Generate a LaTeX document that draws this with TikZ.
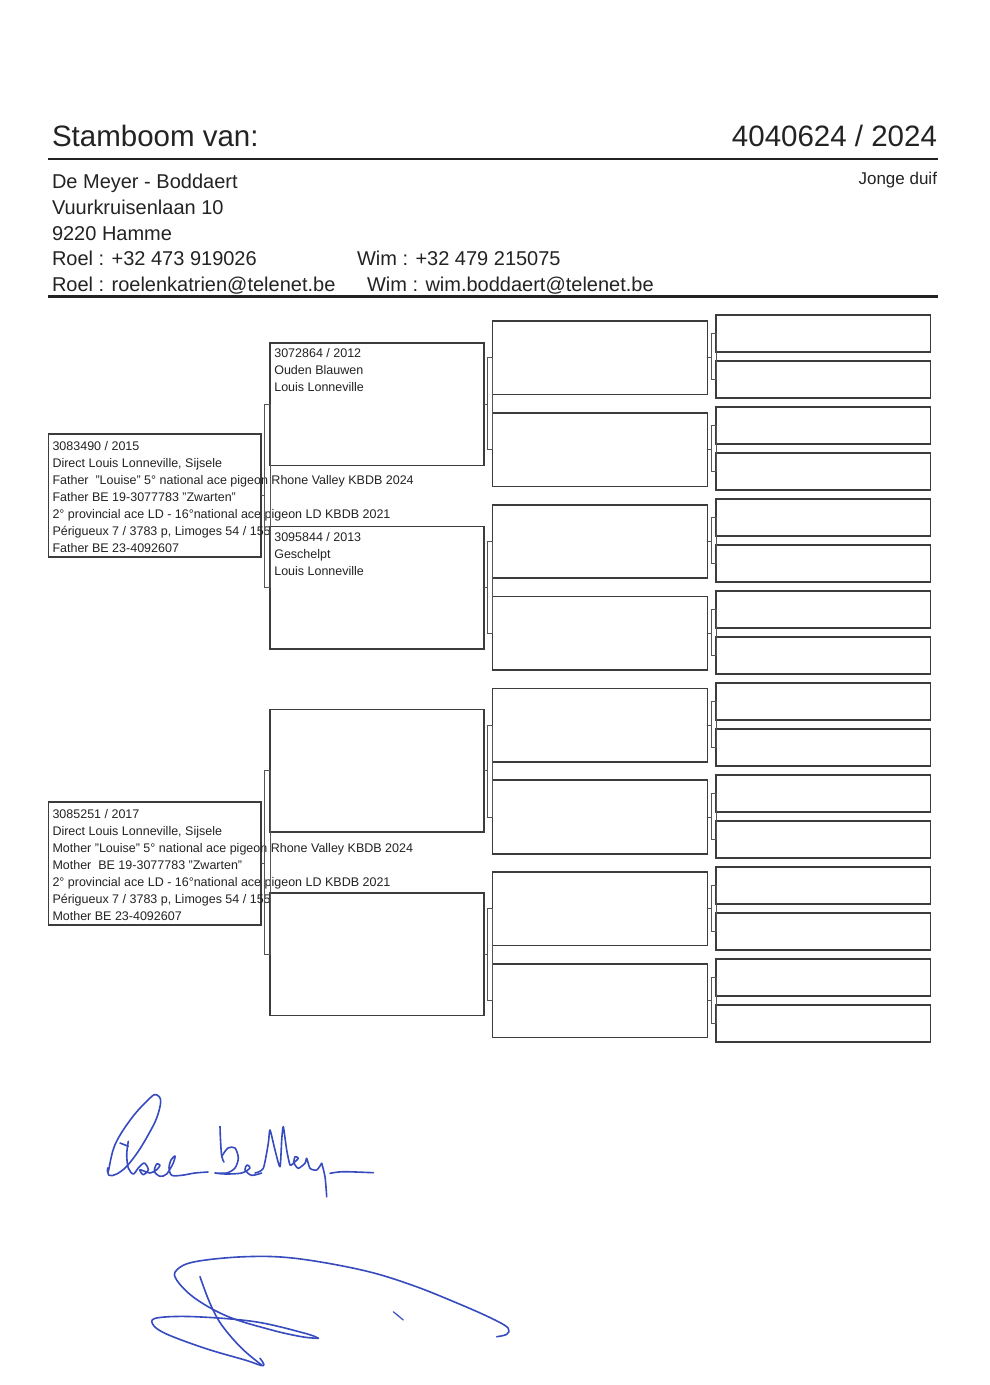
\documentclass[tikz,border=0pt]{standalone}
\usepackage{fontspec}
\setmainfont{Liberation Sans}
\usetikzlibrary{calc}
\definecolor{ink}{RGB}{35,35,35}
\definecolor{boxc}{RGB}{60,60,60}
\definecolor{brc}{RGB}{85,85,85}
\definecolor{sig}{RGB}{55,75,190}
\begin{document}
\begin{tikzpicture}[x=1pt,y=-1pt,
  pbox/.style={draw=boxc,line width=1.6pt,fill=white,rectangle,inner sep=0pt,outer sep=0pt,anchor=north west},
  colA/.style={pbox,minimum width=212.5pt,minimum height=123pt},
  colB/.style={pbox,minimum width=214pt,minimum height=122.5pt},
  colC/.style={pbox,minimum width=215pt,minimum height=73.5pt},
  colD/.style={pbox,minimum width=214.5pt,minimum height=37pt},
  bracket/.style={draw=brc,line width=0.9pt},
  rulestyle/.style={draw=ink,line width=2.2pt},
  txt/.style={inner sep=0pt,outer sep=0pt,anchor=base west,text=ink},
  smalltxt/.style={txt,font=\fontsize{12.5}{15}\selectfont},
  addrtxt/.style={txt,font=\fontsize{20}{24}\selectfont},
  bigtxt/.style={txt,font=\fontsize{29.5}{35}\selectfont},
  sigline/.style={draw=sig,line width=1.6pt,line cap=round,line join=round},
]
\fill[white] (0,0) rectangle (990,1385);
\useasboundingbox (0,0) rectangle (990,1385);

% header
\node[bigtxt] (title) at (52,146) {Stamboom van:};
\node[bigtxt,anchor=base east] (ring) at (937,146) {4040624 / 2024};
\draw[rulestyle] (48,159) -- (938,159);
\node[addrtxt] (a1) at (52,188.5) {De Meyer - Boddaert};
\node[addrtxt] (a2) at (52,214) {Vuurkruisenlaan 10};
\node[addrtxt] (a3) at (52,240) {9220 Hamme};
\node[addrtxt] (a4) at (52,265.5) {Roel : +32 473 919026};
\node[addrtxt] (a5) at (357,265.5) {Wim : +32 479 215075};
\node[addrtxt] (a6) at (52,291) {Roel : roelenkatrien@telenet.be};
\node[addrtxt] (a7) at (367,291) {Wim : wim.boddaert@telenet.be};
\node[txt,anchor=base east,font=\fontsize{17}{20}\selectfont] (jd) at (937,184) {Jonge duif};
\draw[rulestyle] (48,296.5) -- (938,296.5);

% column 1
\node[colA] (F) at (48.5,434) {};
\node[colA] (M) at (48.5,802) {};
\node[smalltxt] (f1) at (52.5,450) {3083490 / 2015};
\node[smalltxt] (f2) at (52.5,467.1) {Direct Louis Lonneville, Sijsele};
\node[smalltxt] (f3) at (52.5,484.2) {Father\ \ "Louise" 5° national ace pigeon Rhone Valley KBDB 2024};
\node[smalltxt] (f4) at (52.5,501.3) {Father BE 19-3077783 "Zwarten"};
\node[smalltxt] (f5) at (52.5,518.4) {2° provincial ace LD - 16°national ace pigeon LD KBDB 2021};
\node[smalltxt] (f6) at (52.5,535.5) {Périgueux 7 / 3783 p, Limoges 54 / 1554};
\node[smalltxt] (f7) at (52.5,552.6) {Father BE 23-4092607};
\node[smalltxt] (m1) at (52.5,818) {3085251 / 2017};
\node[smalltxt] (m2) at (52.5,835.1) {Direct Louis Lonneville, Sijsele};
\node[smalltxt] (m3) at (52.5,852.2) {Mother "Louise" 5° national ace pigeon Rhone Valley KBDB 2024};
\node[smalltxt] (m4) at (52.5,869.3) {Mother\ \ BE 19-3077783 "Zwarten"};
\node[smalltxt] (m5) at (52.5,886.4) {2° provincial ace LD - 16°national ace pigeon LD KBDB 2021};
\node[smalltxt] (m6) at (52.5,903.5) {Périgueux 7 / 3783 p, Limoges 54 / 1554};
\node[smalltxt] (m7) at (52.5,920.6) {Mother BE 23-4092607};

% column 2
\foreach \i in {1,...,4}
  \node[colB] (c\i) at (270,{343+183.33*(\i-1)}) {};
\node[smalltxt] (c1t1) at (274.3,357.5) {3072864 / 2012};
\node[smalltxt] (c1t2) at (274.3,374.5) {Ouden Blauwen};
\node[smalltxt] (c1t3) at (274.3,391.5) {Louis Lonneville};
\node[smalltxt] (c2t1) at (274.3,541.8) {3095844 / 2013};
\node[smalltxt] (c2t2) at (274.3,558.8) {Geschelpt};
\node[smalltxt] (c2t3) at (274.3,575.8) {Louis Lonneville};

% column 3
\foreach \i in {1,...,8}
  \node[colC] (g\i) at (492.5,{321+91.85*(\i-1)}) {};
% column 4
\foreach \i in {1,...,16}
  \node[colD] (h\i) at (716,{315+46*(\i-1)}) {};

% brackets column 1 -> 2
\draw[bracket] (F.east) -- ($(c1.west |- F.east)+(-5.5,0)$);
\draw[bracket] ($(c1.west)+(-5.5,0)$) rectangle (c2.west);
\draw[bracket] (M.east) -- ($(c3.west |- M.east)+(-5.5,0)$);
\draw[bracket] ($(c3.west)+(-5.5,0)$) rectangle (c4.west);
% brackets column 2 -> 3
\foreach \i in {1,...,4} {
  \pgfmathtruncatemacro\ca{2*\i-1}
  \pgfmathtruncatemacro\cb{2*\i}
  \draw[bracket] (c\i.east) -- ($(g\ca.west |- c\i.east)+(-5.5,0)$);
  \draw[bracket] ($(g\ca.west)+(-5.5,0)$) rectangle (g\cb.west);
}
% brackets column 3 -> 4
\foreach \i in {1,...,8} {
  \pgfmathtruncatemacro\ca{2*\i-1}
  \pgfmathtruncatemacro\cb{2*\i}
  \draw[bracket] (g\i.east) -- ($(h\ca.west |- g\i.east)+(-5,0)$);
  \draw[bracket] ($(h\ca.west)+(-5,0)$) rectangle (h\cb.west);
}

% signature 1
\draw[sigline] plot[smooth cycle,tension=0.6] coordinates {(108.3,1171.3) (115,1144.7) (131.7,1118) (150,1098) (156.7,1094.7) (160.7,1101.3) (156.7,1118) (148.3,1134.7) (138.3,1151.3) (126.7,1166.3) (116.7,1174) (109,1175.3) (107.7,1168)};
\draw[sigline] (120,1143) -- (128.3,1146.3);
\draw[sigline] plot[smooth,tension=0.5] coordinates {(128.3,1141.3) (126.7,1154.7) (128.3,1168) (133.3,1174) (138.3,1168) (144.3,1163) (148.3,1169.7) (143.3,1174.7) (140,1169.7) (150,1173) (156.7,1169.7) (160,1165.3) (156.7,1164) (154.3,1171.3) (160,1176.3) (166.7,1174) (173.3,1163) (175,1156) (171,1160) (169,1168) (171.7,1175.3) (181.7,1175.3) (195,1173) (208,1172)};
\draw[sigline] plot[smooth,tension=0.5] coordinates {(220,1126.3) (220.5,1140) (221.7,1156.3) (224,1162)};
\draw[sigline] plot[smooth,tension=0.5] coordinates {(221.7,1156.3) (228,1148) (235,1148) (238.3,1158) (235,1168) (226.7,1173) (215,1173) (226,1174) (241.7,1173) (250,1168) (247,1165) (245,1170) (251.7,1175.3) (261.7,1173)};
\draw[sigline] plot[smooth,tension=0.4] coordinates {(255,1173) (263.3,1168.3) (268.3,1143.3) (270,1130) (275,1150) (280,1166.7) (281.7,1140) (283.3,1126.7) (286.7,1150) (290,1165) (293.3,1163.3) (298.3,1158.3) (295,1156.7) (294,1163) (298.3,1168.3) (305,1163.3) (306.7,1158.3) (310,1168.3) (316.7,1170) (321.7,1163.3)};
\draw[sigline] plot[smooth,tension=0.5] coordinates {(321.7,1163.3) (325,1176.7) (326.7,1196.7)};
\draw[sigline] plot[smooth,tension=0.5] coordinates {(330,1173.3) (343.3,1171.7) (373.3,1172.7)};

% signature 2
\draw[sigline] plot[smooth,tension=0.6] coordinates {(496.7,1336.7) (506.7,1334.3) (508.3,1328.3) (495,1320) (461.7,1305) (411.7,1285) (361.7,1270) (295,1258.3) (245,1256.7) (195,1261.7) (176.7,1270) (176.7,1280) (195,1298.3) (228.3,1316.7) (271.7,1330) (301.7,1336.7) (318.3,1338.3)};
\draw[sigline] plot[smooth,tension=0.6] coordinates {(318.3,1338.3) (305,1333.3) (255,1321.7) (195,1316.7) (158.3,1317.7) (152.3,1323.3) (165,1333.3) (205,1348.3) (245,1360) (263.3,1365.7) (260,1358.3)};
\draw[sigline] plot[smooth,tension=0.6] coordinates {(200,1276.7) (210,1303.3) (221.7,1325) (241.7,1348.3) (261.7,1365)};
\draw[sigline,line width=1.2pt] (393.3,1311.7) -- (403.3,1320);
\end{tikzpicture}
\end{document}
